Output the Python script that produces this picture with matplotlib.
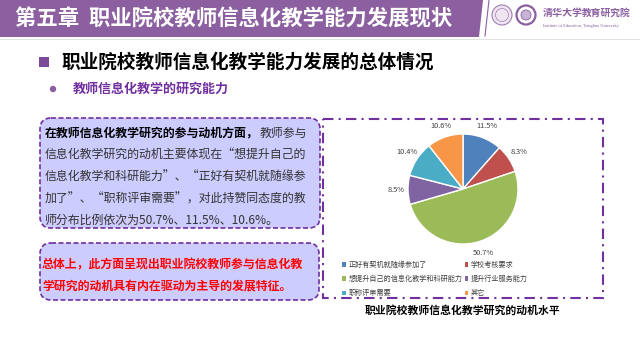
import matplotlib
matplotlib.use('Agg')
import matplotlib.pyplot as plt
from matplotlib.patches import FancyBboxPatch, Rectangle, Polygon, Circle

plt.rcParams['font.family'] = ['Noto Sans CJK SC', 'DejaVu Sans']

# chart data
categories = ['正好有契机就随缘参加了', '学校考核要求', '想提升自己的信息化教学和科研能力',
              '提升行业服务能力', '职称评审需要', '其它']
values = [11.5, 8.3, 50.7, 8.5, 10.4, 10.6]
colors = ['#4F81BD', '#C0504D', '#9BBB59', '#8064A2', '#4BACC6', '#F79646']

title = '第五章  职业院校教师信息化教学能力发展现状'
heading = '职业院校教师信息化教学能力发展的总体情况'
subheading = '教师信息化教学的研究能力'
caption = '职业院校教师信息化教学研究的动机水平'
box1_bold = '在教师信息化教学研究的参与动机方面，'
box1_lines = ['教师参与',
              '信息化教学研究的动机主要体现在“想提升自己的',
              '信息化教学和科研能力”、“正好有契机就随缘参',
              '加了”、“职称评审需要”，对此持赞同态度的教',
              '师分布比例依次为50.7%、11.5%、10.6%。']
box2_lines = ['总体上，此方面呈现出职业院校教师参与信息化教',
              '学研究的动机具有内在驱动为主导的发展特征。']

purple = '#8B5FA0'
dark_purple = '#7030A0'

fig = plt.figure(figsize=(6.4, 3.6), dpi=100)
bg = fig.add_axes([0, 0, 1, 1])
bg.set_xlim(0, 640)
bg.set_ylim(360, 0)
bg.axis('off')

# header bar
bg.add_patch(Polygon([(0, 0), (483, 0), (479, 37), (0, 37)], closed=True,
                     fc=purple, ec='none'))
bg.plot([489, 485], [0, 36], color=purple, lw=0.8)
bg.plot([0, 640], [38.5, 38.5], color='#DDDDDD', lw=0.6)
bg.text(15, 19, title, color='white', fontsize=15.4, fontweight='bold',
        va='center', ha='left')

# logos
bg.add_patch(Circle((502, 15), 10, fc='#EFE6F2', ec='#A07DB5', lw=0.8))
bg.add_patch(Circle((502, 15), 6.5, fc='none', ec='#A07DB5', lw=0.5))
bg.add_patch(Circle((526, 15), 9.5, fc='white', ec=purple, lw=1.6))
bg.add_patch(Circle((526, 15), 5, fc='#C9B3D6', ec=purple, lw=0.6))
bg.text(543, 13, '清华大学', color=purple, fontsize=7.2, fontweight='bold',
        va='center', ha='left', style='italic')
bg.text(582, 13, '教育研究院', color=purple, fontsize=7.0, fontweight='bold',
        va='center', ha='left')
bg.text(543, 26, 'Institute of Education, Tsinghua University', color=purple,
        fontsize=3.2, va='center', ha='left', family='Liberation Serif')

# heading and subheading
bg.add_patch(Rectangle((39, 57), 10, 10, fc='#7B4A9B', ec='none'))
bg.text(61, 62, heading, color='black', fontsize=13.4, fontweight='bold',
        va='center', ha='left')
bg.add_patch(Circle((53, 89), 3.2, fc='#8B5FA0', ec='none'))
bg.text(73, 89, subheading, color=dark_purple, fontsize=9.4, fontweight='bold',
        va='center', ha='left')

# left text boxes
bg.add_patch(FancyBboxPatch((40, 118), 280, 110,
                            boxstyle='round,pad=0,rounding_size=11',
                            fc='#CCCCFF', ec=dark_purple, lw=1.2, ls=(0, (3, 1.5))))
bg.add_patch(FancyBboxPatch((40, 243), 279, 57,
                            boxstyle='round,pad=0,rounding_size=11',
                            fc='#CCCCFF', ec=dark_purple, lw=1.2, ls=(0, (3, 1.5))))

line_y = [133, 155, 177, 199, 220]
bg.text(45, line_y[0], box1_bold, color='black', fontsize=8.6, fontweight='bold',
        va='center', ha='left')
bg.text(260, line_y[0], box1_lines[0], color='#333333', fontsize=8.6,
        va='center', ha='left')
for y, s in zip(line_y[1:], box1_lines[1:]):
    bg.text(45, y, s, color='#333333', fontsize=8.6, va='center', ha='left')

for y, s in zip([265, 286], box2_lines):
    bg.text(42, y, s, color='#FF0000', fontsize=8.6, fontweight='bold',
            va='center', ha='left')

# right dash-dot frame
bg.add_patch(Rectangle((323, 119), 280, 179, fill=False, ec=dark_purple, lw=1.5,
                       ls=(0, (5, 2.5, 1, 2.5))))

# pie chart
r = 55
cx, cy = 463, 189
pie_ax = fig.add_axes([(cx - r) / 640, 1 - (cy + r) / 360, 2 * r / 640, 2 * r / 360])
wedges, texts, autotexts = pie_ax.pie(
    values, colors=colors, startangle=90, counterclock=False, radius=1,
    wedgeprops=dict(edgecolor='white', linewidth=1.0),
    autopct='%.1f%%', pctdistance=1.22,
    textprops=dict(fontsize=5.3, color='#404040'))
for t in autotexts:
    t.set_clip_on(False)
pie_ax.set_xlim(-1, 1)
pie_ax.set_ylim(-1, 1)
pie_ax.axis('off')

order = [0, 2, 4, 1, 3, 5]
leg = bg.legend([wedges[i] for i in order], [categories[i] for i in order],
                ncol=2, loc='upper left', bbox_to_anchor=(342, 261),
                bbox_transform=bg.transData, frameon=False, fontsize=5.1,
                handlelength=0.5, handleheight=0.5, handletextpad=0.4,
                labelspacing=0.85, columnspacing=0.3, borderpad=0,
                borderaxespad=0)
for t in leg.get_texts():
    t.set_color('#404040')
for h in leg.legend_handles:
    h.set_edgecolor('none')

bg.text(463, 310, caption, color='black', fontsize=7.8, fontweight='bold',
        va='center', ha='center')

fig.savefig('out.png', dpi=100)
